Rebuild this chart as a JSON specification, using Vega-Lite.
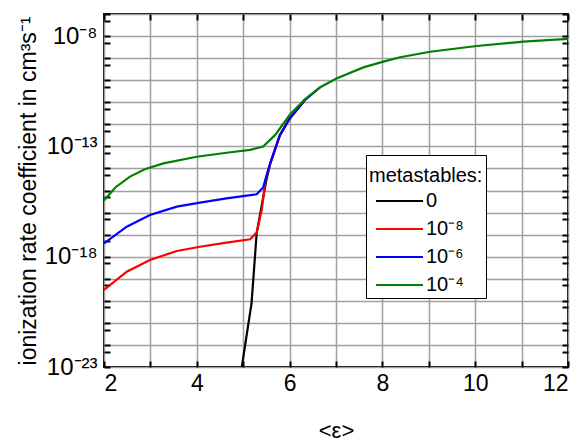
{
  "$schema": "https://vega.github.io/schema/vega-lite/v6.json",
  "width": 464,
  "height": 353,
  "autosize": {"type": "none"},
  "padding": {"left": 104, "top": 14, "right": 15, "bottom": 74},
  "config": {
    "font": "Liberation Sans",
    "view": {"stroke": "black", "strokeWidth": 2},
    "legend": {"strokeWidth": 1}
  },
  "data": {
    "values": [
      {"m": "0", "e": 4.97, "k": 1e-23},
      {"m": "0", "e": 5.18, "k": 7.76e-21},
      {"m": "0", "e": 5.29, "k": 1.15e-17},
      {"m": "0", "e": 5.5, "k": 3.02e-15},
      {"m": "0", "e": 5.58, "k": 1.58e-14},
      {"m": "0", "e": 5.79, "k": 3.16e-13},
      {"m": "0", "e": 6.0, "k": 1.78e-12},
      {"m": "0", "e": 6.33, "k": 1.26e-11},

      {"m": "10⁻⁸", "e": 2.0, "k": 3.16e-20},
      {"m": "10⁻⁸", "e": 2.49, "k": 2.09e-19},
      {"m": "10⁻⁸", "e": 2.99, "k": 7.08e-19},
      {"m": "10⁻⁸", "e": 3.57, "k": 1.82e-18},
      {"m": "10⁻⁸", "e": 4.07, "k": 2.82e-18},
      {"m": "10⁻⁸", "e": 4.64, "k": 4.37e-18},
      {"m": "10⁻⁸", "e": 5.15, "k": 6.17e-18},
      {"m": "10⁻⁸", "e": 5.29, "k": 1.23e-17},
      {"m": "10⁻⁸", "e": 5.4, "k": 1.32e-16},
      {"m": "10⁻⁸", "e": 5.48, "k": 3.02e-15},
      {"m": "10⁻⁸", "e": 5.58, "k": 1.58e-14},
      {"m": "10⁻⁸", "e": 5.79, "k": 3.16e-13},
      {"m": "10⁻⁸", "e": 6.0, "k": 1.78e-12},
      {"m": "10⁻⁸", "e": 6.33, "k": 1.26e-11},

      {"m": "10⁻⁶", "e": 2.0, "k": 3.98e-18},
      {"m": "10⁻⁶", "e": 2.49, "k": 2.29e-17},
      {"m": "10⁻⁶", "e": 2.99, "k": 7.76e-17},
      {"m": "10⁻⁶", "e": 3.57, "k": 1.86e-16},
      {"m": "10⁻⁶", "e": 4.07, "k": 2.82e-16},
      {"m": "10⁻⁶", "e": 4.64, "k": 4.37e-16},
      {"m": "10⁻⁶", "e": 5.29, "k": 6.76e-16},
      {"m": "10⁻⁶", "e": 5.43, "k": 1.38e-15},
      {"m": "10⁻⁶", "e": 5.58, "k": 1.7e-14},
      {"m": "10⁻⁶", "e": 5.79, "k": 3.31e-13},
      {"m": "10⁻⁶", "e": 6.0, "k": 1.86e-12},
      {"m": "10⁻⁶", "e": 6.33, "k": 1.26e-11},
      {"m": "10⁻⁶", "e": 6.66, "k": 4.79e-11},

      {"m": "10⁻⁴", "e": 2.0, "k": 3.55e-16},
      {"m": "10⁻⁴", "e": 2.25, "k": 1.41e-15},
      {"m": "10⁻⁴", "e": 2.56, "k": 4.27e-15},
      {"m": "10⁻⁴", "e": 2.88, "k": 9.12e-15},
      {"m": "10⁻⁴", "e": 3.28, "k": 1.7e-14},
      {"m": "10⁻⁴", "e": 4.0, "k": 3.39e-14},
      {"m": "10⁻⁴", "e": 4.64, "k": 5.13e-14},
      {"m": "10⁻⁴", "e": 5.15, "k": 6.92e-14},
      {"m": "10⁻⁴", "e": 5.43, "k": 9.77e-14},
      {"m": "10⁻⁴", "e": 5.69, "k": 3.31e-13},
      {"m": "10⁻⁴", "e": 6.0, "k": 2.63e-12},
      {"m": "10⁻⁴", "e": 6.33, "k": 1.35e-11},
      {"m": "10⁻⁴", "e": 6.66, "k": 4.79e-11},
      {"m": "10⁻⁴", "e": 7.01, "k": 1.2e-10},
      {"m": "10⁻⁴", "e": 7.59, "k": 3.8e-10},
      {"m": "10⁻⁴", "e": 8.02, "k": 6.92e-10},
      {"m": "10⁻⁴", "e": 8.38, "k": 1.1e-9},
      {"m": "10⁻⁴", "e": 9.03, "k": 1.95e-9},
      {"m": "10⁻⁴", "e": 10.03, "k": 3.55e-9},
      {"m": "10⁻⁴", "e": 11.04, "k": 5.62e-9},
      {"m": "10⁻⁴", "e": 12.0, "k": 7.41e-9}
    ]
  },
  "layer": [
    {
      "mark": {"type": "line", "strokeWidth": 2.2, "clip": true},
      "encoding": {
        "x": {
          "field": "e", "type": "quantitative",
          "scale": {"domain": [2, 12], "nice": false, "zero": false},
          "axis": {
            "orient": "bottom",
            "values": [2, 3, 4, 5, 6, 7, 8, 9, 10, 11, 12],
            "labelExpr": "datum.value % 2 == 0 ? datum.label : ''",
            "labelFontSize": 23, "labelColor": "black", "labelPadding": 11,
            "grid": true, "gridColor": "#a0a0a0", "gridWidth": 1.5,
            "domain": false,
            "tickSize": -6, "tickWidth": 2, "tickColor": "black",
            "title": "<ε>", "titleFontSize": 22, "titleFontWeight": "normal", "titleColor": "black",
            "titleX": 232, "titleY": 63, "titleBaseline": "middle", "titleAlign": "center"
          }
        },
        "y": {
          "field": "k", "type": "quantitative",
          "scale": {"type": "log", "domain": [1e-23, 1e-7], "nice": false},
          "axis": {
            "orient": "left",
            "values": [1e-23, 5e-23, 1e-22, 5e-22, 1e-21, 5e-21, 1e-20, 5e-20, 1e-19, 5e-19, 1e-18, 5e-18, 1e-17, 5e-17, 1e-16, 5e-16, 1e-15, 5e-15, 1e-14, 5e-14, 1e-13, 5e-13, 1e-12, 5e-12, 1e-11, 5e-11, 1e-10, 5e-10, 1e-9, 5e-9, 1e-8, 5e-8, 1e-7],
            "labelExpr": "datum.value == 1e-23 ? '10⁻²³' : datum.value == 1e-18 ? '10⁻¹⁸' : datum.value == 1e-13 ? '10⁻¹³' : datum.value == 1e-8 ? '10⁻⁸' : ''",
            "labelFontSize": 24, "labelColor": "black", "labelPadding": 13,
            "labelBaseline": "middle",
            "grid": true, "gridColor": "#a0a0a0", "gridWidth": 1.5,
            "gridOpacity": {"condition": {"test": "abs(log(datum.value)/LN10 - round(log(datum.value)/LN10)) < 0.01", "value": 1}, "value": 0},
            "domain": false,
            "tickSize": -6, "tickWidth": 2, "tickColor": "black",
            "title": "ionization rate coefficient in cm³s⁻¹", "titleFontSize": 23, "titleFontWeight": "normal", "titleColor": "black",
            "titleX": -76, "titleY": 176.5, "titleAngle": -90, "titleBaseline": "middle", "titleAlign": "center"
          }
        },
        "color": {
          "field": "m", "type": "nominal",
          "scale": {"domain": ["0", "10⁻⁸", "10⁻⁶", "10⁻⁴"], "range": ["#000000", "#ff0000", "#0000ff", "#008000"]},
          "legend": {
            "title": "\u00a0metastables:",
            "orient": "none", "legendX": 262, "legendY": 141,
            "direction": "vertical",
            "strokeColor": "black", "fillColor": "white",
            "padding": 3,
            "symbolType": "M-0.5,0H7.33", "symbolSize": 144, "symbolStrokeWidth": 2.2,
            "labelFontSize": 20, "labelColor": "black", "labelOffset": 37,
            "rowPadding": 8,
            "titleFontSize": 20, "titleFontWeight": "normal", "titleColor": "black", "titlePadding": 13,
            "titleBaseline": "line-top", "titleLineHeight": 36
          }
        }
      }
    },
    {
      "mark": {"type": "line", "opacity": 0, "clip": true},
      "encoding": {
        "x": {
          "field": "e", "type": "quantitative",
          "axis": {
            "orient": "top", "values": [2, 3, 4, 5, 6, 7, 8, 9, 10, 11, 12],
            "labels": false, "grid": false, "domain": false, "title": null,
            "tickSize": -6, "tickWidth": 2, "tickColor": "black"
          }
        },
        "y": {
          "field": "k", "type": "quantitative",
          "axis": {
            "orient": "right",
            "values": [1e-23, 5e-23, 1e-22, 5e-22, 1e-21, 5e-21, 1e-20, 5e-20, 1e-19, 5e-19, 1e-18, 5e-18, 1e-17, 5e-17, 1e-16, 5e-16, 1e-15, 5e-15, 1e-14, 5e-14, 1e-13, 5e-13, 1e-12, 5e-12, 1e-11, 5e-11, 1e-10, 5e-10, 1e-9, 5e-9, 1e-8, 5e-8, 1e-7],
            "labels": false, "grid": false, "domain": false, "title": null,
            "tickSize": -6, "tickWidth": 2, "tickColor": "black"
          }
        },
        "detail": {"field": "m", "type": "nominal"}
      }
    }
  ],
  "resolve": {"axis": {"x": "independent", "y": "independent"}}
}
